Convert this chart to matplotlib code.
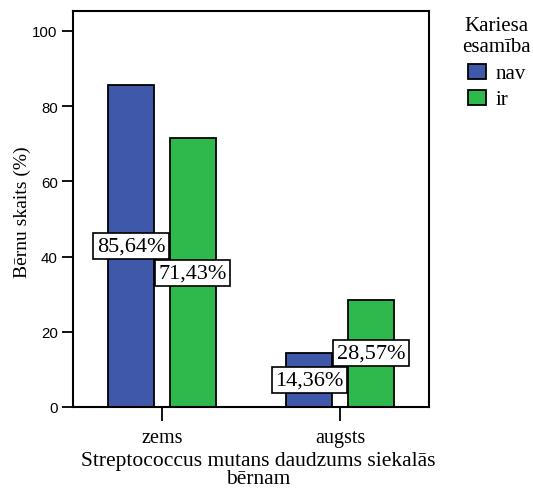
import matplotlib
matplotlib.use("Agg")
import matplotlib.pyplot as plt
from matplotlib.patches import Rectangle
import numpy as np

categories = ["zems", "augsts"]
series_names = ["nav", "ir"]
nav_values = [85.64, 14.36]
ir_values = [71.43, 28.57]
value_labels_nav = ["85,64%", "14,36%"]
value_labels_ir = ["71,43%", "28,57%"]
yticks = [0, 20, 40, 60, 80, 100]
legend_title = ["Kariesa", "esamība"]

blue = "#3f58a9"
green = "#2fb84b"

fig = plt.figure(figsize=(5.33, 4.89), dpi=100)
W, H = 533, 489
ax = fig.add_axes([73 / W, 1 - 408 / H, (429 - 73) / W, (408 - 12) / H])

x = np.arange(len(categories))
bw = 0.262
off = 0.174
serif = "Liberation Serif"
sans = "Liberation Sans"

ax.bar(x - off, nav_values, bw, color=blue, edgecolor="black", linewidth=1.3)
ax.bar(x + off, ir_values, bw, color=green, edgecolor="black", linewidth=1.3)

for xi, v, t in zip(x - off, nav_values, value_labels_nav):
    ax.text(xi, v / 2, t, ha="center", va="center", fontsize=16, family=serif,
            bbox=dict(boxstyle="square,pad=0.15", fc="white", ec="black", lw=1.2))
for xi, v, t in zip(x + off, ir_values, value_labels_ir):
    ax.text(xi, v / 2, t, ha="center", va="center", fontsize=16, family=serif,
            bbox=dict(boxstyle="square,pad=0.15", fc="white", ec="black", lw=1.2))

ax.set_xlim(-0.5, 1.5)
ax.set_ylim(0, 100 * 396 / 376)
ax.set_yticks(yticks)
ax.set_yticklabels([str(t) for t in yticks], family=sans, fontsize=10.8)
ax.set_xticks(x)
ax.set_xticklabels(categories, family=serif, fontsize=14.5)
ax.tick_params(axis="y", direction="out", length=8, width=1.3, pad=3)
ax.tick_params(axis="x", direction="out", length=10, width=1.3, pad=5)
for s in ax.spines.values():
    s.set_linewidth(1.5)

fig.text(22 / W, 1 - 212 / H, "Bērnu skaits (%)", rotation=90, ha="center", va="center",
         family=serif, fontsize=14)
fig.text(258 / W, 1 - 466 / H, "Streptococcus mutans daudzums siekalās", ha="center",
         va="baseline", family=serif, fontsize=15.5)
fig.text(258 / W, 1 - 484 / H, "bērnam", ha="center", va="baseline", family=serif,
         fontsize=15.5)

# legend
fig.text(496 / W, 1 - 31 / H, legend_title[0], ha="center", va="baseline", family=serif,
         fontsize=15)
fig.text(496 / W, 1 - 52 / H, legend_title[1], ha="center", va="baseline", family=serif,
         fontsize=15)
for i, (name, col) in enumerate(zip(series_names, [blue, green])):
    top = 65 + i * 26
    fig.patches.append(Rectangle((468 / W, 1 - (top + 15) / H), 18 / W, 15 / H,
                                 transform=fig.transFigure, fc=col, ec="black", lw=1.3))
    fig.text(496 / W, 1 - (top + 14) / H, name, ha="left", va="baseline", family=serif,
             fontsize=15)

fig.savefig("out.png", dpi=100)
